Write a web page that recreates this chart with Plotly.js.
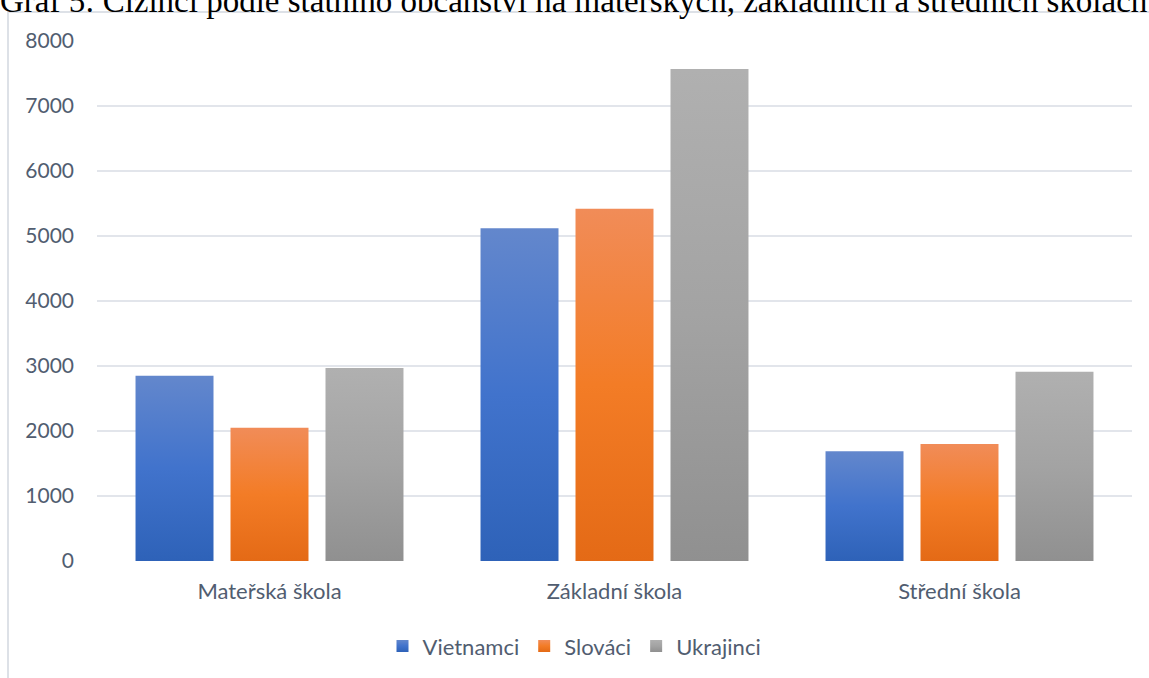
<!DOCTYPE html>
<html>
<head>
<meta charset="utf-8">
<script src="https://cdn.plot.ly/plotly-3.0.1.min.js"></script>
<style>
  html, body { margin: 0; padding: 0; background: #fff; }
  #chart { width: 1149px; height: 678px; }
</style>
</head>
<body>
<div id="chart"></div>
<script>
// Foreign pupils by citizenship and school type
const categories = ['Mateřská škola', 'Základní škola', 'Střední škola'];
const seriesNames = ['Vietnamci', 'Slováci', 'Ukrajinci'];
const vietnamci = [2850, 5120, 1690];
const slovaci = [2050, 5420, 1800];
const ukrajinci = [2970, 7570, 2910];
const yTicks = [0, 1000, 2000, 3000, 4000, 5000, 6000, 7000, 8000];

// Base colour per series plus lighter top / darker bottom for a vertical gradient
const baseColors = ['#4472c4', '#ed7d31', '#a5a5a5'];
const gradStops = [
  ['#6387cc', '#4173cc', '#2e62b8'],
  ['#f18c58', '#f37c26', '#e46a16'],
  ['#b0b0b0', '#a3a3a3', '#909090']
];

const seriesValues = [vietnamci, slovaci, ukrajinci];
const traces = seriesValues.map((vals, i) => ({
  type: 'bar',
  name: seriesNames[i],
  x: categories,
  y: vals,
  marker: { color: baseColors[i], line: { width: 0 } }
}));

const labelColor = '#515d70';

const layout = {
  width: 1149,
  height: 678,
  margin: { l: 97, r: 17, t: 41, b: 117 },
  paper_bgcolor: '#ffffff',
  plot_bgcolor: '#ffffff',
  barmode: 'group',
  bargap: 0.174,
  bargroupgap: 0.179,
  font: { family: 'Lato, "Open Sans", sans-serif', size: 22, color: labelColor },
  title: {
    text: 'Graf 5: Cizinci podle státního občanství na mateřských, základních a středních školách',
    font: { family: '"Liberation Serif", "Times New Roman", serif', size: 33, color: '#000000' },
    x: 0, xref: 'container', xanchor: 'left',
    y: 1, yref: 'container', yanchor: 'middle', pad: { t: 0, l: 0 }
  },
  xaxis: {
    type: 'category',
    showgrid: false,
    zeroline: false,
    showline: false,
    ticks: '',
    ticklabelstandoff: 15,
    tickfont: { size: 22, color: labelColor }
  },
  yaxis: {
    range: [0, 8000],
    tickvals: yTicks,
    ticktext: yTicks.map(String),
    showgrid: true,
    gridcolor: '#e2e5eb',
    gridwidth: 2,
    zeroline: false,
    showline: false,
    ticks: '',
    ticklabelstandoff: 22,
    tickfont: { size: 21, color: labelColor }
  },
  legend: {
    orientation: 'h',
    x: 0.5, xanchor: 'center', xref: 'container',
    y: 0.047, yanchor: 'middle', yref: 'container',
    font: { size: 22, color: labelColor },
    itemclick: false,
    traceorder: 'normal'
  },
  shapes: [{
    type: 'rect', layer: 'below',
    xref: 'paper', yref: 'paper',
    x0: -0.086, x1: 1.2, y0: -0.5, y1: 1.0558,
    line: { color: '#dde1e7', width: 2 },
    fillcolor: 'rgba(0,0,0,0)'
  }],
  showlegend: true
};

function applyGradients(gd) {
  const svg = gd.querySelector('svg.main-svg');
  const defs = svg.querySelector('defs');
  const ns = 'http://www.w3.org/2000/svg';
  gradStops.forEach((stops, i) => {
    const id = 'bar-grad-' + i;
    if (svg.querySelector('#' + id)) return;
    const lg = document.createElementNS(ns, 'linearGradient');
    lg.setAttribute('id', id);
    lg.setAttribute('x1', '0'); lg.setAttribute('y1', '0');
    lg.setAttribute('x2', '0'); lg.setAttribute('y2', '1');
    stops.forEach((c, k) => {
      const s = document.createElementNS(ns, 'stop');
      s.setAttribute('offset', String(k / (stops.length - 1)));
      s.setAttribute('stop-color', c);
      lg.appendChild(s);
    });
    defs.appendChild(lg);
  });
  gd.querySelectorAll('.barlayer .trace.bars').forEach((tr, i) => {
    tr.querySelectorAll('.point path').forEach(p => { p.style.fill = 'url(#bar-grad-' + i + ')'; });
  });
  gd.querySelectorAll('.legend .traces').forEach((tr, i) => {
    tr.querySelectorAll('.legendpoints path').forEach(p => { p.style.fill = 'url(#bar-grad-' + i + ')'; });
  });
}

const gd = document.getElementById('chart');
Plotly.newPlot(gd, traces, layout, { staticPlot: true, displayModeBar: false })
  .then(() => applyGradients(gd));
</script>
</body>
</html>
